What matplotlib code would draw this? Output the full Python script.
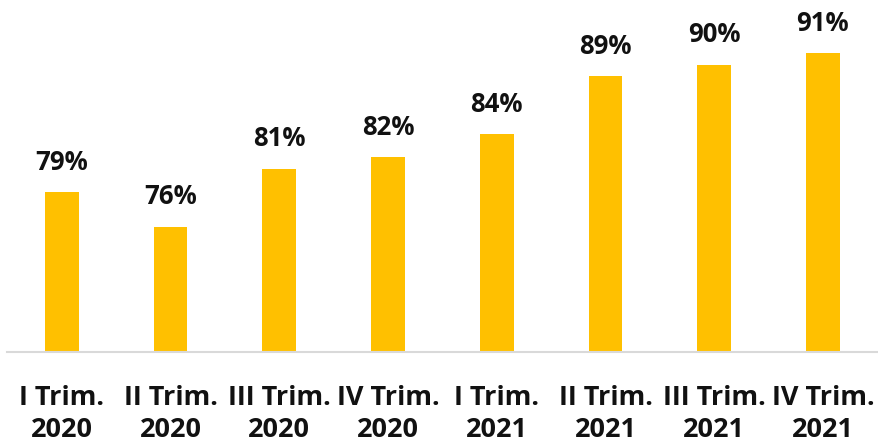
import matplotlib
matplotlib.use("Agg")
import matplotlib.pyplot as plt
import numpy as np

# quarter labels and share values (%)
categories = ["I Trim.\n2020", "II Trim.\n2020", "III Trim.\n2020", "IV Trim.\n2020",
              "I Trim.\n2021", "II Trim.\n2021", "III Trim.\n2021", "IV Trim.\n2021"]
values = [79, 76, 81, 82, 84, 89, 90, 91]

plt.rcParams['font.family'] = ['Open Sans', 'DejaVu Sans']

fig = plt.figure(figsize=(8.79, 4.44), dpi=100)
ax = fig.add_axes([0.0085, 0.2072, 0.9895, 0.7928])

x = np.arange(len(categories))
bars = ax.bar(x, values, width=0.31, color="#FFC000", zorder=2)

for b, v in zip(bars, values):
    ax.annotate(f"{v}%", (b.get_x() + b.get_width() / 2, v),
                xytext=(0, 12), textcoords="offset points",
                ha="center", va="bottom", fontsize=18.5, fontweight="bold", color="#111111")

ax.set_xlim(-0.5, len(categories) - 0.5)
ax.set_ylim(65.2, 95.6)
ax.set_xticks(x)
ax.set_xticklabels(categories, fontsize=19.5, fontweight="bold", color="#111111",
                   linespacing=1.3)
ax.tick_params(axis="x", length=0, pad=24)
ax.set_yticks([])

for s in ["top", "right", "left"]:
    ax.spines[s].set_visible(False)
ax.spines["bottom"].set_color("#D9D9D9")
ax.spines["bottom"].set_linewidth(1.5)

fig.savefig("out.png", dpi=100)
